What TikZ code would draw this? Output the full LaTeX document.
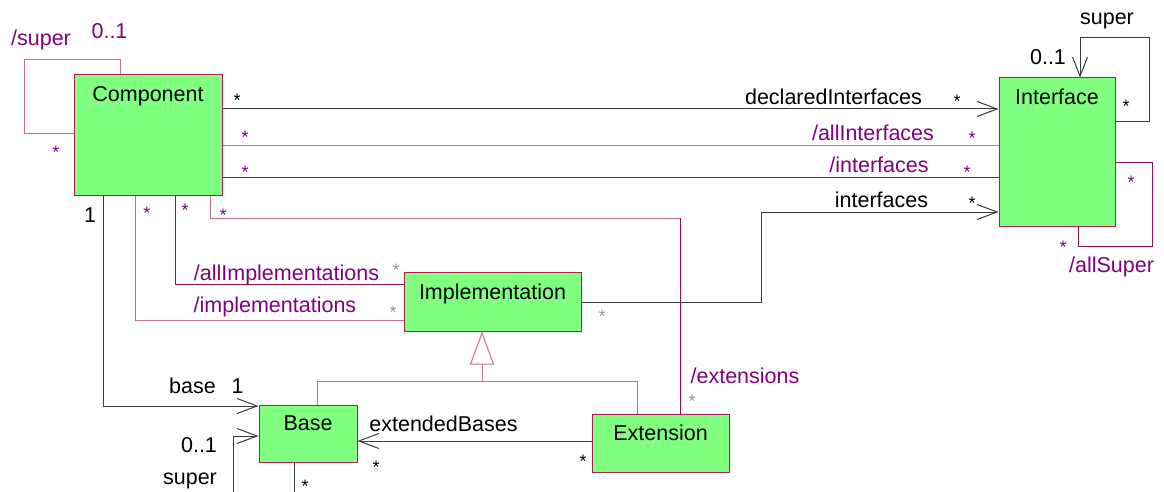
\documentclass[tikz,border=0pt]{standalone}
\usepackage{fontspec}
\setmainfont{Liberation Sans}
\usetikzlibrary{arrows.meta,calc}
\definecolor{boxfill}{HTML}{80FF80}
\definecolor{boxline}{RGB}{170,30,80}
\definecolor{lpink}{RGB}{192,112,144}
\definecolor{dpink}{RGB}{140,20,80}
\definecolor{lblack}{RGB}{60,60,60}
\definecolor{purp}{HTML}{800080}
\definecolor{gstar}{RGB}{150,150,150}
\begin{document}
\begin{tikzpicture}[x=1pt,y=-1pt,
  box/.style={draw=boxline, fill=boxfill, line width=1pt, inner sep=0pt},
  nm/.style={anchor=base, inner sep=0pt, font=\fontsize{21.5}{24}\selectfont},
  lbl/.style={anchor=base, inner sep=0pt, font=\fontsize{21.5}{24}\selectfont},
  plbl/.style={lbl, text=purp},
  st/.style={anchor=base, inner sep=0pt, font=\fontsize{18}{18}\selectfont},
  pst/.style={st, text=purp},
  gst/.style={st, text=gstar},
  bl/.style={draw=lblack, line width=1pt},
  lp/.style={draw=lpink, line width=1pt},
  dp/.style={draw=dpink, line width=1pt},
  opn/.style={-{Straight Barb[length=20pt,width=15pt,line width=1pt]}}
]
\useasboundingbox (0,0) rectangle (1164,492);

% boxes
\node[box, minimum width=148pt, minimum height=120pt] (comp) at (148,135) {};
\node[box, minimum width=116pt, minimum height=148pt] (iface) at (1057,152) {};
\node[box, minimum width=177pt, minimum height=59pt] (impl) at (492.5,301.5) {};
\node[box, minimum width=98pt, minimum height=57pt] (base) at (308,433.5) {};
\node[box, minimum width=137pt, minimum height=58pt] (ext) at (660.5,443) {};

\node[nm] (compname) at ([yshift=-27pt]comp.north) {Component};
\node[nm] (ifacename) at ([yshift=-27pt]iface.north) {Interface};
\node[nm] (implname) at ([yshift=-28pt]impl.north) {Implementation};
\node[nm] (basename) at ([yshift=-26pt]base.north) {Base};
\node[nm] (extname) at ([yshift=-27pt]ext.north) {Extension};

% Component self loop /super
\draw[lp] (comp.west |- 0,134) -- (24,134) -- (24,60) -- (120,60) -- (comp.north -| 120,0);
% declaredInterfaces
\draw[bl,opn] (comp.east |- 0,109) -- (iface.west |- 0,109);
% /allInterfaces
\draw[lp] (comp.east |- 0,145) -- (iface.west |- 0,145);
% /interfaces
\draw[dp] (comp.east |- 0,177) -- (iface.west |- 0,177);
% /extensions
\draw[lp] (comp.south -| 210,0) -- (210,218) -- (680,218);
\draw[dp] (680,218) -- (ext.north -| 680,0);
% base
\draw[bl,opn] (comp.south -| 103,0) -- (103,406) -- (base.west |- 0,406);
% /implementations
\draw[lp] (comp.south -| 135,0) -- (135,320) -- (impl.west |- 0,320);
% /allImplementations
\draw[dp] (comp.south -| 175,0) -- (175,284) -- (impl.west |- 0,284);
% interfaces
\draw[bl,opn] (impl.east |- 0,302) -- (761,302) -- (761,212) -- (iface.west |- 0,212);
% Interface super loop
\draw[bl,-{Straight Barb[length=19pt,width=15pt,line width=1pt]}] (iface.east |- 0,122) -- (1149,122) -- (1149,38) -- (1080,38) -- (iface.north -| 1080,0);
% /allSuper loop
\draw[dp] (iface.east |- 0,162) -- (1152,162) -- (1152,246) -- (1078,246) -- (iface.south -| 1078,0);
% generalization
\draw[lp] (base.north -| 317,0) -- (317,381) -- (637,381) -- (ext.north -| 637,0);
\draw[lp,-{Triangle[length=33pt,width=24pt,fill=white,line width=1pt]}] (482,381) -- (impl.south -| 482,0);
% extendedBases
\draw[bl,opn] (ext.west |- 0,441) -- (base.east |- 0,441);
% Base super
\coordinate (bsuperend) at (233,492);
\draw[bl,opn] (bsuperend) -- (233,436) -- (base.west |- 0,436);
% Base bottom line
\coordinate (bbotend) at (294,492);
\draw[bl] (base.south -| 294,0) -- (bbotend);

% labels
\node[plbl] (l1) at (41,46) {/super};
\node[plbl] (l2) at (109.5,39) {0..1};
\node[pst] (s1) at (56,158) {*};
\node[st] (s2) at (237,107) {*};
\node[pst] (s3) at (245,143) {*};
\node[pst] (s4) at (245,178) {*};
\node[lbl] (l3) at (90,222) {1};
\node[pst] (s5) at (147,219) {*};
\node[pst] (s6) at (185,216) {*};
\node[pst] (s7) at (223,221) {*};

\node[lbl] (l4) at (833.5,105) {declaredInterfaces};
\node[st] (s8) at (957,108) {*};
\node[plbl] (l5) at (873,141) {/allInterfaces};
\node[pst] (s9) at (972,144) {*};
\node[plbl] (l6) at (879,172) {/interfaces};
\node[pst] (s10) at (967,178) {*};
\node[lbl] (l7) at (881.5,207) {interfaces};
\node[st] (s11) at (972,209) {*};

\node[lbl] (l8) at (1107,25) {super};
\node[lbl] (l9) at (1048,65) {0..1};
\node[st] (s12) at (1126,113) {*};
\node[pst] (s13) at (1131,188) {*};
\node[pst] (s14) at (1063,253) {*};
\node[plbl] (l10) at (1111.5,272) {/allSuper};

\node[plbl] (l11) at (286.5,280) {/allImplementations};
\node[gst] (s15) at (396,276) {*};
\node[plbl] (l12) at (275,312) {/implementations};
\node[gst] (s16) at (393,318) {*};
\node[gst] (s17) at (602,322) {*};

\node[plbl] (l13) at (745,383) {/extensions};
\node[gst] (s18) at (692,407) {*};

\node[lbl] (l14) at (192.5,393) {base};
\node[lbl] (l15) at (237.5,393) {1};
\node[lbl] (l16) at (199,452) {0..1};
\node[lbl] (l17) at (190,484) {super};
\node[st] (s19) at (376,473) {*};
\node[st] (s20) at (305,492) {*};
\node[lbl] (l18) at (443.5,431) {extendedBases};
\node[st] (s21) at (583,467) {*};
\end{tikzpicture}
\end{document}
